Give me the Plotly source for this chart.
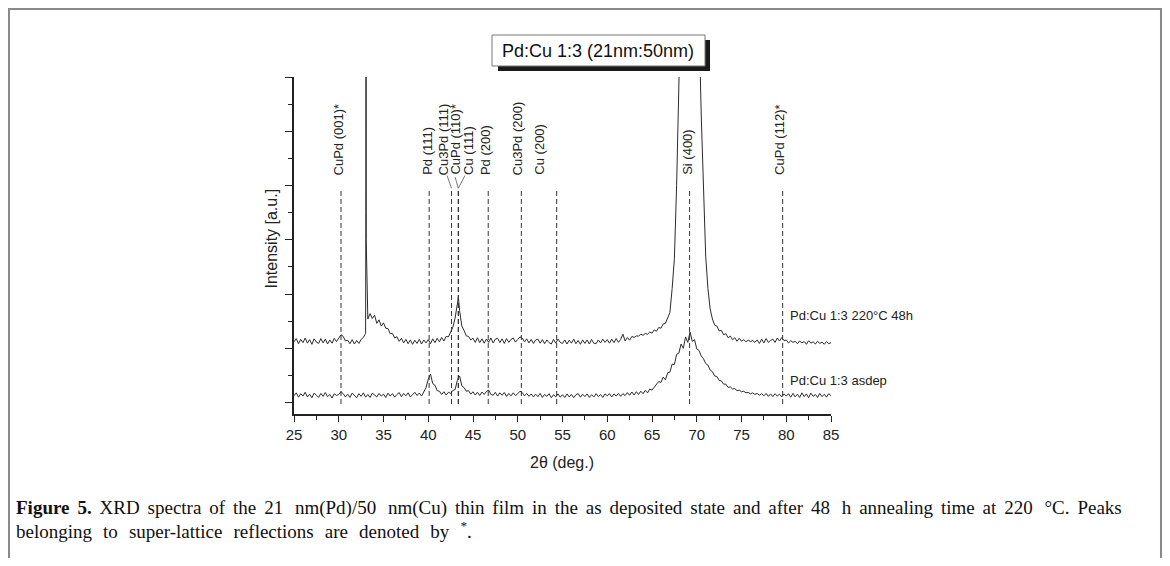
import plotly.graph_objects as go

# ---------------- data ----------------
# two-theta grid: 25.00 ... 85.00, step 0.25 deg
theta_start = 25.0
theta_step = 0.25

asdep_counts = [
    # 25.00 - 29.75
    0.25, 0.36, 0.20, 0.33, 0.24, 0.38, 0.21, 0.31, 0.18, 0.35, 0.27, 0.19, 0.34, 0.23, 0.37, 0.22, 0.30, 0.17, 0.33, 0.26,
    # 30.00 - 34.75
    0.30, 0.40, 0.33, 0.21, 0.31, 0.19, 0.35, 0.25, 0.18, 0.33, 0.23, 0.36, 0.20, 0.30, 0.19, 0.35, 0.26, 0.21, 0.34, 0.24,
    # 35.00 - 39.75
    0.31, 0.19, 0.35, 0.24, 0.33, 0.20, 0.30, 0.37, 0.22, 0.34, 0.25, 0.36, 0.21, 0.31, 0.38, 0.26, 0.35, 0.24, 0.40, 0.55,
    # 40.00 - 44.75
    0.86, 1.05, 0.70, 0.64, 0.44, 0.42, 0.30, 0.40, 0.28, 0.38, 0.34, 0.45, 0.48, 0.82, 0.98, 0.62, 0.55, 0.42, 0.44, 0.31,
    # 45.00 - 49.75
    0.40, 0.28, 0.38, 0.26, 0.39, 0.30, 0.41, 0.46, 0.30, 0.27, 0.38, 0.24, 0.36, 0.27, 0.37, 0.23, 0.34, 0.25, 0.36, 0.26,
    # 50.00 - 54.75
    0.33, 0.42, 0.37, 0.25, 0.34, 0.23, 0.32, 0.21, 0.31, 0.22, 0.34, 0.19, 0.30, 0.23, 0.33, 0.18, 0.29, 0.21, 0.32, 0.20,
    # 55.00 - 59.75
    0.29, 0.19, 0.32, 0.21, 0.30, 0.18, 0.29, 0.33, 0.20, 0.31, 0.22, 0.32, 0.19, 0.29, 0.21, 0.33, 0.22, 0.30, 0.19, 0.32,
    # 60.00 - 64.75
    0.25, 0.33, 0.21, 0.32, 0.24, 0.34, 0.23, 0.33, 0.26, 0.37, 0.27, 0.39, 0.28, 0.40, 0.30, 0.42, 0.33, 0.45, 0.36, 0.50,
    # 65.00 - 69.75
    0.46, 0.56, 0.66, 0.78, 0.74, 0.94, 0.84, 1.10, 1.12, 1.42, 1.40, 1.78, 1.82, 2.16, 2.00, 2.42, 2.22, 2.60, 2.26, 2.32,
    # 70.00 - 74.75
    1.98, 1.92, 1.72, 1.62, 1.44, 1.38, 1.20, 1.14, 0.98, 0.96, 0.82, 0.80, 0.68, 0.68, 0.56, 0.58, 0.50, 0.52, 0.44, 0.46,
    # 75.00 - 79.75
    0.40, 0.42, 0.36, 0.38, 0.32, 0.36, 0.30, 0.34, 0.27, 0.33, 0.25, 0.34, 0.23, 0.32, 0.22, 0.33, 0.24, 0.31, 0.21, 0.32,
    # 80.00 - 84.75
    0.24, 0.33, 0.20, 0.34, 0.21, 0.31, 0.19, 0.36, 0.22, 0.32, 0.18, 0.35, 0.23, 0.30, 0.19, 0.34, 0.22, 0.31, 0.20, 0.33,
    # 85.00
    0.25,
]

annealed_counts = [
    # 25.00 - 29.75
    2.24, 2.36, 2.17, 2.33, 2.21, 2.38, 2.19, 2.32, 2.15, 2.35, 2.23, 2.18, 2.36, 2.20, 2.34, 2.16, 2.31, 2.19, 2.37, 2.25,
    # 30.00 - 34.75
    2.38, 2.50, 2.44, 2.27, 2.30, 2.17, 2.32, 2.16, 2.29, 2.18, 2.33, 2.40, 2.55, 3.08, 3.28, 3.10, 3.22, 2.92, 3.05, 2.82,
    # 35.00 - 39.75
    2.94, 2.74, 2.73, 2.54, 2.55, 2.38, 2.43, 2.26, 2.37, 2.20, 2.33, 2.17, 2.31, 2.15, 2.30, 2.18, 2.33, 2.16, 2.31, 2.20,
    # 40.00 - 44.75
    2.32, 2.17, 2.35, 2.21, 2.37, 2.24, 2.40, 2.27, 2.44, 2.42, 2.62, 2.78, 3.12, 3.55, 3.40, 2.82, 2.66, 2.46, 2.44, 2.31,
    # 45.00 - 49.75
    2.37, 2.22, 2.39, 2.21, 2.35, 2.19, 2.34, 2.22, 2.38, 2.20, 2.34, 2.37, 2.21, 2.35, 2.18, 2.36, 2.22, 2.33, 2.38, 2.23,
    # 50.00 - 54.75
    2.33, 2.42, 2.38, 2.24, 2.35, 2.20, 2.33, 2.18, 2.31, 2.34, 2.19, 2.32, 2.17, 2.31, 2.21, 2.16, 2.33, 2.19, 2.34, 2.22,
    # 55.00 - 59.75
    2.18, 2.31, 2.16, 2.30, 2.19, 2.34, 2.17, 2.29, 2.15, 2.31, 2.18, 2.31, 2.16, 2.33, 2.19, 2.17, 2.31, 2.20, 2.34, 2.22,
    # 60.00 - 64.75
    2.32, 2.19, 2.34, 2.21, 2.36, 2.22, 2.33, 2.52, 2.27, 2.40, 2.30, 2.44, 2.40, 2.46, 2.45, 2.52, 2.48, 2.55, 2.52, 2.60,
    # 65.00 - 69.75
    2.56, 2.68, 2.63, 2.77, 2.74, 2.90, 2.92, 3.14, 3.32, 4.20, 5.30, 8.00, 10.9, 14.0, 20.0, 26.0, 30.0, 30.0, 26.0, 20.0,
    # 70.00 - 74.75
    18.0, 14.2, 10.6, 7.9, 5.4, 4.2, 3.45, 3.08, 2.86, 2.82, 2.64, 2.66, 2.50, 2.54, 2.39, 2.45, 2.32, 2.39, 2.26, 2.37,
    # 75.00 - 79.75
    2.26, 2.32, 2.24, 2.30, 2.25, 2.29, 2.22, 2.31, 2.18, 2.34, 2.20, 2.36, 2.22, 2.29, 2.34, 2.22, 2.38, 2.27, 2.40, 2.28,
    # 80.00 - 84.75
    2.31, 2.20, 2.28, 2.22, 2.26, 2.17, 2.27, 2.20, 2.25, 2.15, 2.28, 2.19, 2.24, 2.16, 2.26, 2.18, 2.23, 2.15, 2.25, 2.17,
    # 85.00
    2.21,
]

# sharp features of the annealed scan between grid points
annealed_extra_theta = [33.03, 33.05, 33.07, 43.37]
annealed_extra_counts = [7.0, 30.0, 6.0, 3.88]

# reference reflections (2theta, deg)
peak_names = ["CuPd (001)*", "Pd (111)", "Cu3Pd (111)", "CuPd (110)*", "Cu (111)",
              "Pd (200)", "Cu3Pd (200)", "Cu (200)", "Si (400)", "CuPd (112)*"]
peak_theta = [30.25, 40.1, 42.6, 43.36, 43.36, 46.7, 50.4, 54.35, 69.2, 79.6]

x_ticks = [25, 30, 35, 40, 45, 50, 55, 60, 65, 70, 75, 80, 85]

chart_title = "Pd:Cu 1:3 (21nm:50nm)"
series_labels = ["Pd:Cu 1:3 220°C 48h", "Pd:Cu 1:3 asdep"]
x_title = "2θ (deg.)"
y_title = "Intensity [a.u.]"
caption_1 = ("<b>Figure 5.</b> XRD spectra of the 21\u2009 nm(Pd)/50\u2009 nm(Cu) thin film in the as deposited "
             "state and after 48\u2009 h annealing time at 220\u2009 °C. Peaks")
caption_2 = "belonging to super-lattice reflections are denoted by <sup>*</sup>."

# ---------------- build series ----------------
grid_a = [theta_start + theta_step * i for i in range(len(asdep_counts))]
grid_b = [theta_start + theta_step * i for i in range(len(annealed_counts))]
ann_pts = sorted(list(zip(grid_b, annealed_counts)) + list(zip(annealed_extra_theta, annealed_extra_counts)))
ann_x = [p[0] for p in ann_pts]
ann_y = [p[1] for p in ann_pts]

FONT = "Liberation Sans, Arial, sans-serif"
SERIF = "Liberation Serif, Times New Roman, serif"
LINE = "#2b2b2b"

fig = go.Figure()
fig.add_trace(go.Scatter(x=grid_a, y=asdep_counts, mode="lines",
                         line=dict(color=LINE, width=1), hoverinfo="skip", showlegend=False))
fig.add_trace(go.Scatter(x=ann_x, y=ann_y, mode="lines",
                         line=dict(color=LINE, width=1), hoverinfo="skip", showlegend=False))

shapes = []
annotations = []

# dashed reference lines
DASH_TOP = 7.9
for name, t in zip(peak_names, peak_theta):
    shapes.append(dict(type="line", xref="x", yref="y", x0=t, x1=t, y0=-0.05, y1=DASH_TOP,
                       line=dict(color="#333333", width=1, dash="5px,3px"), layer="above"))

# label placement (text centre x in deg) -- layout only
label_x = [29.95, 39.83, 41.68, 43.10, 44.47, 46.34, 49.95, 52.49, 68.88, 79.22]
LABEL_BOTTOM = 8.31
for name, lx in zip(peak_names, label_x):
    annotations.append(dict(x=lx, y=LABEL_BOTTOM, xref="x", yref="y", text=name, textangle=-90,
                            showarrow=False, xanchor="center", yanchor="bottom",
                            font=dict(family=FONT, size=13, color="#222222")))

# small leader lines for crowded labels
leaders = [(42.1, 8.37, 42.6, 7.9), (43.0, 8.31, 43.36, 7.9), (44.1, 8.37, 43.36, 7.9)]
for x0, y0, x1, y1 in leaders:
    shapes.append(dict(type="line", xref="x", yref="y", x0=x0, y0=y0, x1=x1, y1=y1,
                       line=dict(color="#555555", width=0.8)))

# series labels
for txt, yy in zip(series_labels, [3.22, 0.83]):
    annotations.append(dict(x=80.15, y=yy, xref="x", yref="y", text=txt, showarrow=False,
                            xanchor="left", yanchor="middle",
                            font=dict(family=FONT, size=13, color="#222222")))

# title box with shadow
shapes.append(dict(type="rect", xref="paper", yref="paper", x0=0.3799, x1=0.7747, y0=1.0178, y1=1.1098,
                   fillcolor="#1a1a1a", line=dict(width=0)))
shapes.append(dict(type="rect", xref="paper", yref="paper", x0=0.3687, x1=0.7654, y0=1.0326, y1=1.1246,
                   fillcolor="white", line=dict(color="#777777", width=1)))
annotations.append(dict(x=0.567, y=1.0786, xref="paper", yref="paper", text=chart_title, showarrow=False,
                        xanchor="center", yanchor="middle", font=dict(family=FONT, size=18, color="#111111")))

# axis titles
annotations.append(dict(x=0.499, y=-0.145, xref="paper", yref="paper", text=x_title, showarrow=False,
                        xanchor="center", yanchor="middle", font=dict(family=FONT, size=16, color="#222222")))
annotations.append(dict(x=-0.0428, y=0.5208, xref="paper", yref="paper", text=y_title, showarrow=False,
                        textangle=-90, xanchor="center", yanchor="middle",
                        font=dict(family=FONT, size=16, color="#222222")))

# caption (the original's word spacing is wider than the serif font's default)
caption_1_just = caption_1.replace(" ", " \u2006")
caption_2_wide = caption_2.replace(" ", " \u2004").replace("<sup> \u2004", "<sup>")
annotations.append(dict(x=-0.5215, y=-0.279, xref="paper", yref="paper", text=caption_1_just, showarrow=False,
                        xanchor="left", yanchor="middle",
                        font=dict(family=SERIF, size=19, color="#111111")))
annotations.append(dict(x=-0.5215, y=-0.343, xref="paper", yref="paper", text=caption_2_wide, showarrow=False,
                        xanchor="left", yanchor="middle",
                        font=dict(family=SERIF, size=19, color="#111111")))

# outer frame (bottom edge off-page)
shapes.append(dict(type="rect", xref="paper", yref="paper", x0=-0.5307, x1=1.6145, y0=-0.6, y1=1.2018,
                   line=dict(color="#8a8a8a", width=2), fillcolor="rgba(0,0,0,0)"))

fig.update_layout(
    width=1154, height=550,
    margin=dict(l=286, r=331, t=69, b=144),
    paper_bgcolor="white", plot_bgcolor="white",
    shapes=shapes, annotations=annotations,
    showlegend=False,
    xaxis=dict(range=[25, 85], tickvals=x_ticks, ticktext=[str(v) for v in x_ticks],
               ticks="outside", ticklen=6, tickwidth=1, tickcolor="#222222",
               minor=dict(ticks="outside", ticklen=4, dtick=2.5, tick0=25, tickcolor="#222222", tickwidth=1),
               showline=True, linecolor="#222222", linewidth=1.5, showgrid=False, zeroline=False,
               tickfont=dict(family=FONT, size=15, color="#222222")),
    yaxis=dict(range=[-0.42, 12], tick0=0, dtick=2, showticklabels=False,
               ticks="outside", ticklen=7, tickwidth=1, tickcolor="#222222",
               minor=dict(ticks="outside", ticklen=4, dtick=1, tick0=0, tickcolor="#222222", tickwidth=1),
               showline=True, linecolor="#222222", linewidth=1.5, showgrid=False, zeroline=False),
)

fig.write_html("out.html")
